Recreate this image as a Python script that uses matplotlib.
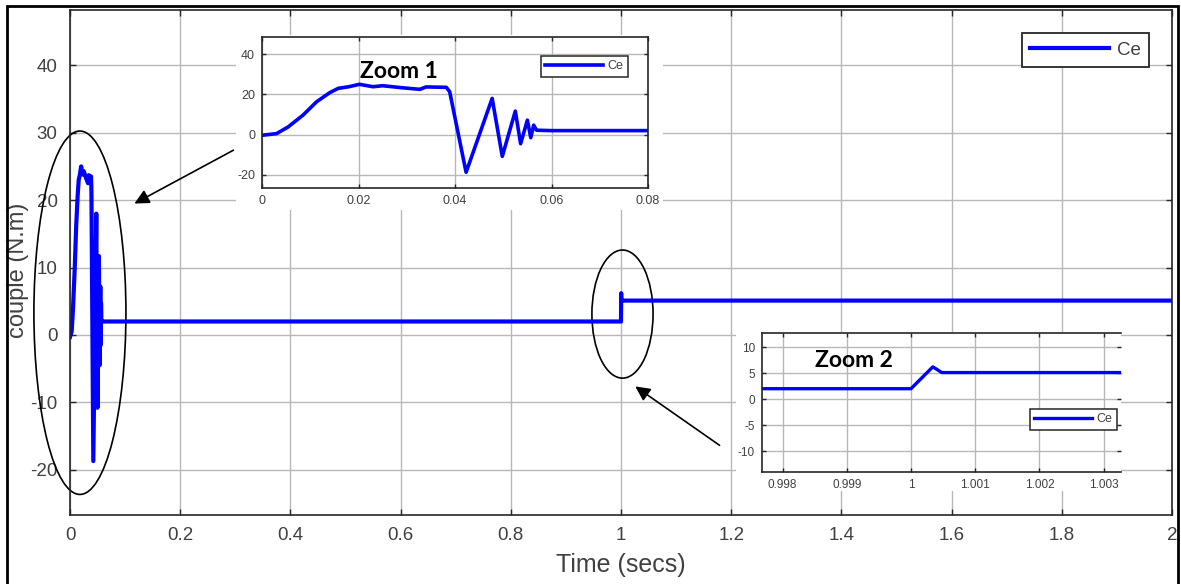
import matplotlib
matplotlib.use("Agg")
import matplotlib.pyplot as plt
from matplotlib.patches import Ellipse, Rectangle

plt.rcParams['font.family'] = ['Liberation Sans', 'DejaVu Sans']
plt.rcParams['axes.unicode_minus'] = False

# ---- data ----
t_vals = [0, 0.003, 0.0054, 0.0085, 0.0113, 0.014, 0.0158, 0.018, 0.0202, 0.023,
          0.025, 0.029, 0.0327, 0.034, 0.0382, 0.0389, 0.0423, 0.0477, 0.0498,
          0.0525, 0.0536, 0.055, 0.0557, 0.0563, 0.0569, 0.06,
          1.0, 1.00034, 1.00048, 2.0]
ce_vals = [-0.3, 0.5, 3.8, 9.7, 16.3, 20.8, 23.0, 23.8, 25.0, 23.8,
           24.3, 23.3, 22.5, 23.7, 23.5, 21.3, -18.7, 18.0, -10.8,
           11.7, -4.5, 7.2, -1.5, 4.7, 2.2, 2.0,
           2.0, 6.2, 5.1, 5.1]

main_xticks = [0, 0.2, 0.4, 0.6, 0.8, 1, 1.2, 1.4, 1.6, 1.8, 2]
main_xlabels = ['0', '0.2', '0.4', '0.6', '0.8', '1', '1.2', '1.4', '1.6', '1.8', '2']
main_yticks = [-20, -10, 0, 10, 20, 30, 40]
z1_xticks = [0, 0.02, 0.04, 0.06, 0.08]
z1_xlabels = ['0', '0.02', '0.04', '0.06', '0.08']
z1_yticks = [-20, 0, 20, 40]
z2_xticks = [0.998, 0.999, 1.0, 1.001, 1.002, 1.003]
z2_xlabels = ['0.998', '0.999', '1', '1.001', '1.002', '1.003']
z2_yticks = [-10, -5, 0, 5, 10]
series_name = 'Ce'

W, H = 1181, 584
fig = plt.figure(figsize=(W / 100, H / 100), dpi=100)


def fax(l, t, r, b):
    return [l / W, 1 - b / H, (r - l) / W, (b - t) / H]


TXT = '#404040'
GRID = '#b8b8b8'
SPINE = '#262626'
BLUE = '#0000ff'


def style(ax, fs, pad):
    ax.grid(True, color=GRID, lw=1.0)
    ax.set_axisbelow(True)
    ax.tick_params(direction='in', top=True, right=True, labelsize=fs,
                   colors=SPINE, labelcolor=TXT, pad=pad, length=4, width=1)
    for s in ax.spines.values():
        s.set_color(SPINE)
        s.set_linewidth(1.2)


# ---- main axes ----
ax = fig.add_axes(fax(70, 10, 1172, 515))
ax.set_zorder(0)
ax.plot(t_vals, ce_vals, color=BLUE, lw=3.0, label=series_name)
ax.set_xlim(0, 2)
ax.set_ylim(-26.7, 48.2)
ax.set_xticks(main_xticks)
ax.set_xticklabels(main_xlabels)
ax.set_yticks(main_yticks)
style(ax, 13.5, 9)
ax.set_xlabel('Time (secs)', fontsize=18, color=TXT, labelpad=6)
ax.set_ylabel('couple (N.m)', fontsize=17, color=TXT, labelpad=0)
ax.yaxis.set_label_coords(-0.037, 0.485)
leg = ax.legend(loc='upper right', bbox_to_anchor=(1149 / W, 1 - 33 / H),
                bbox_transform=fig.transFigure, borderaxespad=0, fontsize=13.5,
                handlelength=4.2, fancybox=False, framealpha=1,
                edgecolor=SPINE, borderpad=0.45, handletextpad=0.4)
leg.get_frame().set_linewidth(1.3)
for txt in leg.get_texts():
    txt.set_color(TXT)

# ellipses and arrows
ax.add_patch(Ellipse((0.018, 3.3), 0.167, 53.9, fill=False, ec='black',
                     lw=1.2, clip_on=False))
ax.add_patch(Ellipse((1.0027, 3.1), 0.111, 19.0, fill=False, ec='black',
                     lw=1.2, clip_on=False))
ax.annotate('', xy=(0.1125, 19.3), xytext=(0.301, 27.6),
            arrowprops=dict(arrowstyle='-|>', color='black', lw=1.2,
                            mutation_scale=22), annotation_clip=False)
ax.annotate('', xy=(1.0218, -7.4), xytext=(1.183, -16.6),
            arrowprops=dict(arrowstyle='-|>', color='black', lw=1.2,
                            mutation_scale=22), annotation_clip=False)

# white backgrounds of pasted insets
fig.add_artist(Rectangle((236 / W, 1 - 210 / H), (663 - 236) / W, (210 - 35) / H,
                         transform=fig.transFigure, fc='white', ec='none', zorder=1))
fig.add_artist(Rectangle((736 / W, 1 - 491 / H), (1121 - 736) / W, (491 - 332) / H,
                         transform=fig.transFigure, fc='white', ec='none', zorder=1))

# ---- inset 1 ----
a1 = fig.add_axes(fax(262, 37, 648, 188))
a1.set_zorder(2)
a1.plot(t_vals, ce_vals, color=BLUE, lw=2.6, label=series_name)
a1.set_xlim(0, 0.08)
a1.set_ylim(-26.5, 48.5)
a1.set_xticks(z1_xticks)
a1.set_xticklabels(z1_xlabels)
a1.set_yticks(z1_yticks)
style(a1, 9, 5)
a1.tick_params(length=3)
a1.text(0.0203, 31.5, 'Zoom 1', fontsize=16.5, fontweight='bold',
        family=['Lato', 'DejaVu Sans'], va='center', ha='left', color='black')
l1 = a1.legend(loc='upper right', bbox_to_anchor=(628 / W, 1 - 56 / H),
               bbox_transform=fig.transFigure, borderaxespad=0, fontsize=9,
               handlelength=4.6, fancybox=False, framealpha=1, edgecolor=SPINE,
               borderpad=0.35, handletextpad=0.4)
l1.get_frame().set_linewidth(1.1)
for txt in l1.get_texts():
    txt.set_color(TXT)

# ---- inset 2 ----
a2 = fig.add_axes(fax(762, 333, 1121, 472))
a2.set_zorder(2)
a2.plot(t_vals, ce_vals, color=BLUE, lw=2.4, label=series_name)
a2.set_xlim(0.99768, 1.00327)
a2.set_ylim(-14.0, 12.7)
a2.set_xticks(z2_xticks)
a2.set_xticklabels(z2_xlabels)
a2.set_yticks(z2_yticks)
style(a2, 8.5, 5)
a2.tick_params(length=3)
a2.spines['right'].set_visible(False)
a2.text(0.998505, 7.5, 'Zoom 2', fontsize=16.5, fontweight='bold',
        family=['Lato', 'DejaVu Sans'], va='center', ha='left', color='black')
l2 = a2.legend(loc='upper right', bbox_to_anchor=(1117 / W, 1 - 409 / H),
               bbox_transform=fig.transFigure, borderaxespad=0, fontsize=9,
               handlelength=4.6, fancybox=False, framealpha=1, edgecolor=SPINE,
               borderpad=0.35, handletextpad=0.4)
l2.get_frame().set_linewidth(1.1)
for txt in l2.get_texts():
    txt.set_color(TXT)

# outer border of the picture
fig.add_artist(Rectangle((7 / W, -0.01), (1178 - 7) / W, 1.01 - 6 / H,
                         transform=fig.transFigure, fill=False, ec='black',
                         lw=2, zorder=10))

fig.savefig('out.png', dpi=100)
